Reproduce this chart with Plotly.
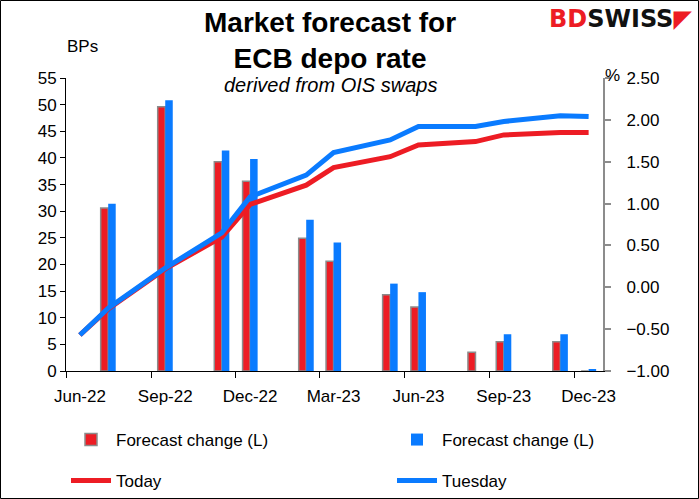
"""Market forecast for ECB depo rate - derived from OIS swaps"""

import pandas as pd
import plotly.graph_objects as go

# data
meetings = ["2022-07", "2022-09", "2022-11", "2022-12", "2023-02", "2023-03",
            "2023-05", "2023-06", "2023-08", "2023-09", "2023-11", "2023-12"]
chg_today = [30.6, 49.6, 39.3, 35.6, 24.9, 20.6, 14.3, 12.0, 3.5, 5.5, 5.5, 0.0]
chg_tuesday = [31.4, 50.8, 41.4, 39.8, 28.4, 24.1, 16.4, 14.8, 0.0, 6.9, 6.9, 0.2]

line_months = ["2022-06"] + meetings
rate_today = [-0.57, -0.26, 0.22, 0.60, 0.99, 1.22, 1.43, 1.56, 1.70, 1.74, 1.82, 1.85, 1.85]
rate_tuesday = [-0.57, -0.25, 0.23, 0.65, 1.08, 1.34, 1.61, 1.76, 1.92, 1.92, 1.98, 2.05, 2.04]

tick_months = ["2022-06", "2022-09", "2022-12", "2023-03", "2023-06", "2023-09", "2023-12"]
tick_text = ["Jun-22", "Sep-22", "Dec-22", "Mar-23", "Jun-23", "Sep-23", "Dec-23"]

RED = "#ED1C24"
BLUE = "#0A7BFF"
GREY = "#8C8C8C"
FONT = "Liberation Sans, Arial, sans-serif"

W, H = 699, 499
ML, MR, MT, MB = 66, 96, 78, 128
PW, PH = W - ML - MR, H - MT - MB


def px_x(p):
    return (p - ML) / PW


def px_y(p):
    return (H - MB - p) / PH


def leg(xp, yp):
    # one legend box per entry, placed in pixels of the whole picture
    return dict(xref="container", yref="container", x=xp / W, y=1 - yp / H,
                xanchor="left", yanchor="middle", orientation="h",
                itemwidth=40, font=dict(size=17), bgcolor="rgba(0,0,0,0)")


def label(fig, text, xp, yp, size, family=FONT):
    fig.add_annotation(text=text, xref="paper", yref="paper",
                       x=px_x(xp), y=px_y(yp), xanchor="center", yanchor="middle",
                       showarrow=False, font=dict(size=size, family=family))


# labels in the middle of the month, tick marks at the month start
starts = pd.to_datetime(tick_months)
mids = [s + (s + pd.offsets.MonthBegin(1) - s) / 2 for s in starts]

fig = go.Figure()
fig.add_trace(go.Bar(x=meetings, y=chg_today, name="Forecast change (L)",
                     xperiod="M1", xperiodalignment="middle",
                     marker=dict(color=RED, line=dict(color=GREY, width=1.5)),
                     legend="legend"))
fig.add_trace(go.Bar(x=meetings, y=chg_tuesday, name="Forecast change (L)",
                     xperiod="M1", xperiodalignment="middle",
                     marker=dict(color=BLUE, line=dict(width=0)),
                     legend="legend2"))
fig.add_trace(go.Scatter(x=line_months, y=rate_today, name="Today", yaxis="y2",
                         xperiod="M1", xperiodalignment="middle", mode="lines",
                         line=dict(color=RED, width=5), legend="legend3"))
fig.add_trace(go.Scatter(x=line_months, y=rate_tuesday, name="Tuesday", yaxis="y2",
                         xperiod="M1", xperiodalignment="middle", mode="lines",
                         line=dict(color=BLUE, width=5), legend="legend4"))

fig.update_layout(
    width=W, height=H,
    margin=dict(l=ML, r=MR, t=MT, b=MB, autoexpand=False),
    paper_bgcolor="white", plot_bgcolor="white",
    font=dict(family=FONT, size=17, color="black"),
    showlegend=True,
    barmode="group", bargap=0.45, bargroupgap=0,
    xaxis=dict(type="date", range=["2022-06-01", "2024-01-01"],
               tickvals=mids, ticktext=tick_text, ticks="",
               ticklabelstandoff=10,
               minor=dict(tickvals=starts, ticks="outside", ticklen=6,
                          tickcolor="black", tickwidth=1),
               showline=True, linecolor="black", linewidth=1,
               showgrid=False, zeroline=False, tickfont=dict(size=17)),
    yaxis=dict(range=[0, 55], dtick=5, ticks="outside", ticklen=5,
               tickcolor="black", showline=True, linecolor="black",
               linewidth=1, showgrid=False, zeroline=False,
               tickfont=dict(size=17)),
    yaxis2=dict(range=[-1, 2.5], dtick=0.5, tickformat=".2f", overlaying="y",
                side="right", ticks="outside", ticklen=6, tickcolor=GREY,
                tickwidth=2, showline=True, linecolor=GREY, linewidth=2,
                ticklabelstandoff=12,
                showgrid=False, zeroline=False, tickfont=dict(size=17)),
    legend=leg(66, 440),
    legend2=leg(392, 440),
    legend3=leg(66, 481),
    legend4=leg(392, 481),
)

label(fig, "<b>Market forecast for<br>ECB depo rate</b>", 330, 40, 28)
label(fig, "<i>derived from OIS swaps</i>", 330, 85, 20)
label(fig, "BPs", 82, 47, 17)
label(fig, "%", 612, 76, 17)
label(fig, "<b><span style='color:#ED1C24'>BD</span>"
           "<span style='color:#111111'>SWISS</span>"
           "<span style='color:#ED1C24'>◤</span></b>",
      620, 19, 24, "DejaVu Sans, sans-serif")

# outer frame
fig.add_shape(type="rect", xref="paper", yref="paper",
              x0=px_x(0.5), x1=px_x(W - 0.5), y0=px_y(H - 0.5), y1=px_y(0.5),
              line=dict(color="black", width=1), layer="above")

fig.write_html("out.html", config={"displayModeBar": False},
               post_script="document.body.style.margin='0';")
